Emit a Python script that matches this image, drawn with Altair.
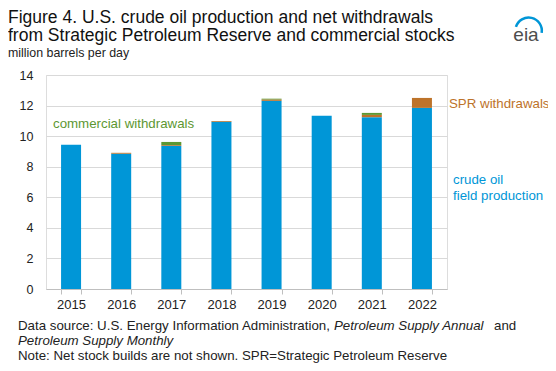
import altair as alt
import pandas as pd

years = ["2015", "2016", "2017", "2018", "2019", "2020", "2021", "2022"]
production = [9.43, 8.85, 9.37, 10.94, 12.31, 11.33, 11.24, 11.85]
spr = [0.0, 0.06, 0.05, 0.05, 0.09, 0.0, 0.15, 0.65]
commercial = [0.0, 0.0, 0.20, 0.0, 0.05, 0.0, 0.13, 0.0]

series = ["crude oil field production", "SPR withdrawals", "commercial withdrawals"]
colors = ["#0096D7", "#BD732A", "#5D9732"]

rows = []
for i, y in enumerate(years):
    for k, (name, vals) in enumerate(zip(series, [production, spr, commercial])):
        rows.append({"year": y, "series": name, "value": vals[i], "order": k})
df = pd.DataFrame(rows)

FONT = "Liberation Sans"

bars = alt.Chart(df).mark_bar(size=20).encode(
    x=alt.X("year:N", title=None,
            scale=alt.Scale(paddingInner=0.6, paddingOuter=0.3),
            axis=alt.Axis(labelAngle=0, labelFont=FONT, labelFontSize=13, labelColor="#222",
                          domainColor="#bfbfbf", tickColor="#bfbfbf", tickSize=5,
                          tickBand="extent", labelPadding=4, grid=False)),
    y=alt.Y("value:Q", title=None, stack="zero",
            scale=alt.Scale(domain=[0, 14], nice=False),
            axis=alt.Axis(values=[0, 2, 4, 6, 8, 10, 12, 14], labelFont=FONT, labelFontSize=12.5,
                          labelColor="#222", domain=False, ticks=False, labelPadding=13,
                          gridColor="#d9d9d9")),
    color=alt.Color("series:N", scale=alt.Scale(domain=series, range=colors), legend=None),
    order=alt.Order("order:Q"),
)

def txt(text, x, y, size=12, color="#222", style="normal", align="left", weight="normal"):
    return alt.Chart(pd.DataFrame({"t": [text]})).mark_text(
        align=align, baseline="alphabetic", font=FONT, fontSize=size, color=color,
        fontStyle=style, fontWeight=weight
    ).encode(text="t:N", x=alt.value(x), y=alt.value(y))

# plot origin is at page (46, 75); coordinates below are relative to plot area
ox, oy = 46, 75
FS = 13.3
labels = [
    txt("Figure 4. U.S. crude oil production and net withdrawals", 8 - ox, 23 - oy, size=17.5, color="#111"),
    txt("from Strategic Petroleum Reserve and commercial stocks", 8 - ox, 41 - oy, size=17.5, color="#111"),
    txt("million barrels per day", 8 - ox, 56.5 - oy, size=12.4),
    txt("commercial withdrawals", 53 - ox, 128 - oy, size=FS, color="#5D9732"),
    txt("SPR withdrawals", 449 - ox, 108 - oy, size=FS, color="#BD732A"),
    txt("crude oil", 453 - ox, 184 - oy, size=FS, color="#0096D7"),
    txt("field production", 453 - ox, 200 - oy, size=FS, color="#0096D7"),
    txt("Data source: U.S. Energy Information Administration,", 18 - ox, 330 - oy, size=FS),
    txt("Petroleum Supply Annual", 334 - ox, 330 - oy, size=FS, style="italic"),
    txt("and", 494 - ox, 330 - oy, size=FS),
    txt("Petroleum Supply Monthly", 18 - ox, 345 - oy, size=FS, style="italic"),
    txt("Note: Net stock builds are not shown. SPR=Strategic Petroleum Reserve", 18 - ox, 360 - oy, size=FS),
    txt("eia", 526 - ox, 41 - oy, size=19, color="#4d4d4d", align="center"),
]

arc = alt.Chart(pd.DataFrame({"a": [1]})).mark_arc(
    radius=14.5, radius2=12, theta=5.01, theta2=8.01, color="#0096D7"
).encode(x=alt.value(528.6 - ox), y=alt.value(30.8 - oy))

chart = alt.layer(bars, *labels, arc).properties(
    width=401, height=214,
    autosize=alt.AutoSizeParams(type="none"),
    padding={"left": 38, "top": 67, "right": 101, "bottom": 74},
).configure_view(stroke=None).configure(background="white")

chart.save("out.html", embed_options={"renderer": "svg", "actions": False})
